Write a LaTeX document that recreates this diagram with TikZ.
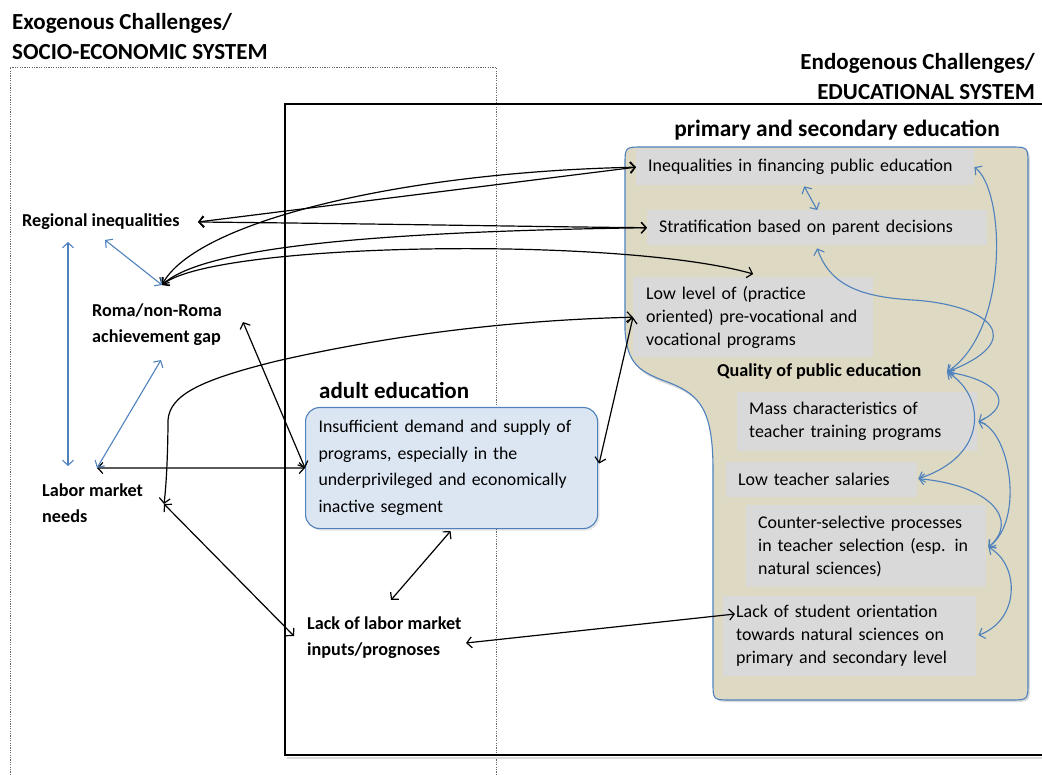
\documentclass[tikz,border=0pt]{standalone}
\usepackage{fontspec}
\setmainfont{Carlito}
\usetikzlibrary{arrows.meta,shadows,calc}
\definecolor{tanfill}{HTML}{DDD9C3}
\definecolor{bluel}{HTML}{4F81BD}
\definecolor{greyb}{HTML}{D9D9D9}
\definecolor{adultfill}{HTML}{DCE6F2}
\begin{document}
\begin{tikzpicture}[x=1pt,y=-1pt,
 bk/.style={draw=black, line width=1.2pt, {Straight Barb[length=5pt,width=11pt]}-{Straight Barb[length=5pt,width=11pt]}},
 bl/.style={draw=bluel, line width=1.1pt, {Straight Barb[length=5pt,width=11pt]}-{Straight Barb[length=5pt,width=11pt]}},
 gbox/.style={fill=greyb, anchor=north west, align=left, inner xsep=12pt, inner ysep=0pt, font=\fontsize{17.9}{23}\selectfont},
 lbl/.style={font=\bfseries\fontsize{18.2}{26}\selectfont, align=left, anchor=west, inner sep=0pt},
 ttl/.style={font=\bfseries\fontsize{23}{30}\selectfont, inner sep=0pt}]
\useasboundingbox (0,0) rectangle (1042,775);
% frames
\draw[gray!80!black, line width=0.8pt, dash pattern=on 1.2pt off 1.2pt] (10,775) -- (10,67) -- (496,67) -- (496,775);
\draw[black!15, line width=2pt] (287,758) -- (1042,758);
\draw[black, line width=1.2pt] (1042,104) -- (285,104) -- (285,755) -- (1042,755);
% tan shape
\fill[black!15] (627,333) -- (627,167) .. controls (627,149) .. (645,149) -- (1012,149) .. controls (1030,149) .. (1030,167) -- (1030,684) .. controls (1030,702) .. (1012,702) -- (733,702) .. controls (715,702) .. (715,684) -- (715,473) .. controls (715,413) and (702,398) .. (672,386) .. controls (642,375) and (629,368) .. (627,333) -- cycle;
\draw[bluel, line width=1.1pt, fill=tanfill] (625,330) -- (625,165) .. controls (625,147) .. (643,147) -- (1010,147) .. controls (1028,147) .. (1028,165) -- (1028,682) .. controls (1028,700) .. (1010,700) -- (731,700) .. controls (713,700) .. (713,682) -- (713,470) .. controls (713,410) and (700,395) .. (670,383) .. controls (640,372) and (627,365) .. (625,330) -- cycle;
% titles
\node[ttl, anchor=west, align=left] (exo) at (12,37) {Exogenous Challenges/\\SOCIO-ECONOMIC SYSTEM};
\node[ttl, anchor=east, align=right] (endo) at (1035,76.5) {Endogenous Challenges/\\EDUCATIONAL SYSTEM};
\node[ttl, font=\bfseries\fontsize{23.4}{30}\selectfont] (pse) at (837,130) {primary and secondary education};
\node[ttl, anchor=west] (adt) at (319,390) {adult education};
% left labels
\node[lbl] (reg) at (22,222) {Regional inequalities};
\node[lbl] (roma) at (92,325) {Roma/non-Roma\\achievement gap};
\node[lbl] (labor) at (42,503.5) {Labor market\\needs};
\node[lbl] (lacklab) at (307,637.5) {Lack of labor market\\inputs/prognoses};
% adult box
\node[draw=bluel, line width=1.1pt, fill=adultfill, rounded corners=14pt, anchor=north west, align=left, inner xsep=13pt, inner ysep=0pt, text width=266pt, minimum height=121pt, font=\fontsize{17.8}{26.5}\selectfont, drop shadow={shadow xshift=2pt, shadow yshift=-2pt, opacity=0.2}] (adult) at (305,407) {Insufficient demand and supply of\\programs, especially in the\\underprivileged and economically\\inactive segment};
% grey boxes
\node[gbox, text width=314pt, minimum height=36pt] (ineq) at (636,149) {Inequalities in financing public education};
\node[gbox, text width=316pt, minimum height=35pt] (strat) at (647,210) {Stratification based on parent decisions};
\node[gbox, inner xsep=13pt, text width=214pt, minimum height=80pt] (low) at (633,277) {Low level of (practice\\oriented) pre-vocational and\\vocational programs};
\node[lbl] (qual) at (717,372) {Quality of public education};
\node[gbox, text width=216pt, minimum height=59pt] (mass) at (737,392) {Mass characteristics of\\teacher training programs};
\node[gbox, text width=167pt, minimum height=35pt] (sal) at (726,462) {Low teacher salaries};
\node[gbox, text width=216pt, minimum height=82pt] (counter) at (746,505) {Counter-selective processes\\in teacher selection (esp. in\\natural sciences)};
\node[gbox, inner xsep=13pt, text width=227pt, minimum height=80pt] (stud) at (723,596) {Lack of student orientation\\towards natural sciences on\\primary and secondary level};
% black connectors
\draw[bk] ($(reg.west)+(176,0)$) -- (ineq.west);
\draw[bk] ($(reg.west)+(176,0)$) .. controls (400,224) and (550,227) .. (strat.west);
\draw[bk] ($(roma.west)+(70,-40)$) .. controls (195,222) and (400,172) .. (ineq.west);
\draw[bk] ($(roma.west)+(70,-40)$) .. controls (200,250) and (350,232) .. (strat.west);
\draw[bk] ($(roma.west)+(70,-40)$) .. controls (215,242) and (620,236) .. ($(low.north)+(0,-3)$);
\draw[bk] ($(labor.west)+(122,0.5)$) .. controls (167,480) and (168,440) .. (168,420) .. controls (170,395) and (200,380) .. (277,361) .. controls (400,333) and (520,320) .. (low.west);
\draw[bk] (low.west) -- ($(adult.east)+(1,-4.5)$);
\draw[bk] ($(roma.west)+(151,-3)$) -- (adult.west);
\draw[bk] ($(labor.west)+(55,-35.5)$) -- (adult.west);
\draw[bk] ($(labor.west)+(122,0.5)$) -- ($(lacklab.west)+(-13,-1.5)$);
\draw[bk] ($(adult.south)+(-1,2)$) -- ($(lacklab.west)+(84,-37.5)$);
\draw[bk] ($(lacklab.west)+(159,5.5)$) -- ($(stud.north west)+(12,18)$);
% blue connectors
\draw[bl] ($(reg.west)+(46,20)$) -- ($(labor.west)+(26,-37.5)$);
\draw[bl] ($(reg.west)+(83,18)$) -- ($(roma.west)+(70,-40)$);
\draw[bl] ($(roma.west)+(69,35)$) -- ($(labor.west)+(55,-35.5)$);
\draw[bl] ($(ineq.south)+(-1,1)$) -- (strat.north);
\draw[bl] (ineq.east) .. controls (1005,190) and (1010,330) .. ($(qual.west)+(230,0)$);
\draw[bl] ($(strat.south)+(0,3)$) .. controls (830,285) and (860,297) .. (913,300) .. controls (990,305) and (1030,340) .. ($(qual.west)+(230,0)$);
\draw[bl] ($(qual.west)+(230,0)$) .. controls (1000,380) and (1015,405) .. ($(mass.east)+(1,0)$);
\draw[bl] ($(qual.west)+(230,0)$) .. controls (985,395) and (990,455) .. ($(sal.east)+(1,-1)$);
\draw[bl] ($(mass.east)+(1,0)$) .. controls (1010,430) and (1025,520) .. ($(counter.east)+(2,1)$);
\draw[bl] ($(sal.east)+(1,-1)$) .. controls (990,485) and (1020,520) .. ($(counter.east)+(2,1)$);
\draw[bl] ($(counter.east)+(2,1)$) .. controls (1020,565) and (1020,620) .. ($(stud.east)+(2,-1)$);
\end{tikzpicture}
\end{document}
